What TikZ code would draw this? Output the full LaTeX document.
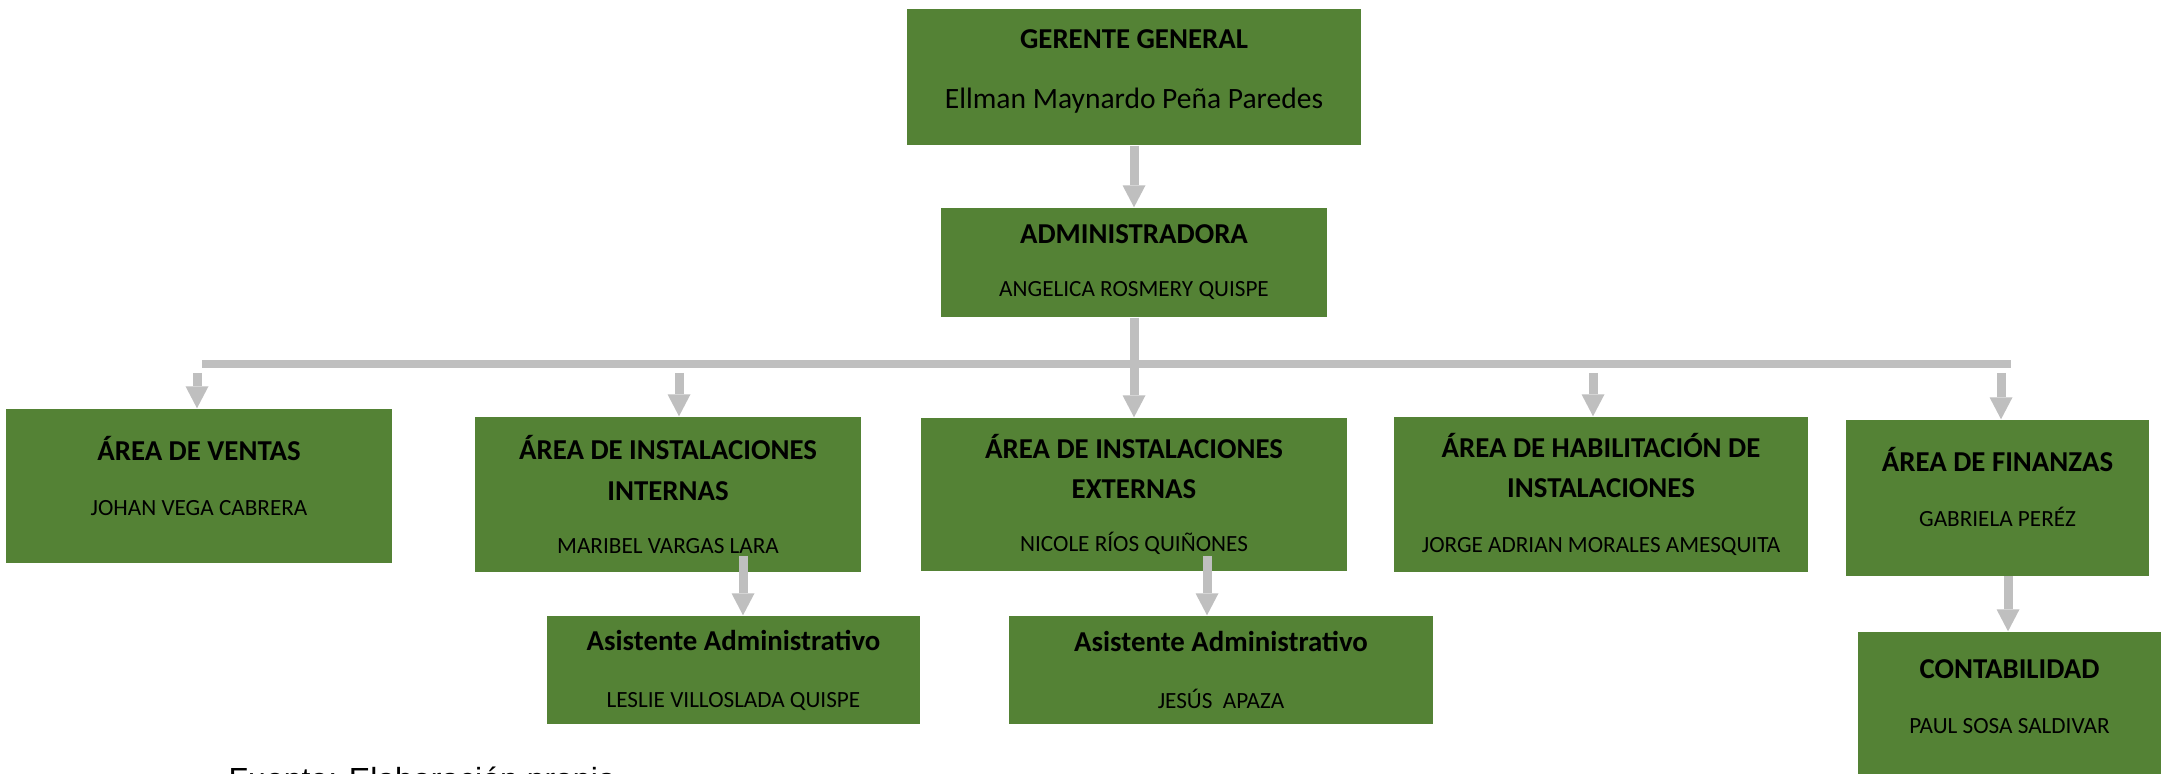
\documentclass[tikz,border=0pt]{standalone}
\usepackage{fontspec}
\setmainfont{Carlito}
\newfontfamily\arialfont{Liberation Sans}
\usetikzlibrary{arrows.meta, positioning}

\definecolor{verde}{HTML}{548235}
\definecolor{gris}{HTML}{BFBFBF}

\newcommand{\cargo}[1]{\textbf{#1}}
\newcommand{\persona}[1]{{\fontsize{6.6}{11.4}\selectfont #1}}
% linea vacia al final para subir el texto en la caja
\newcommand{\hueco}[1]{\\[#1]\mbox{}}

\tikzset{
	caja/.style = {fill=verde, inner sep=0pt, align=center, text=black,
		font=\fontsize{8.2}{11.4}\selectfont},
	flecha/.style = {draw=gris, line width=0.9mm,
		-{Triangle[width=2.3mm, length=2.2mm, line width=0pt]}},
	barra/.style = {draw=gris, line width=0.8mm},
}

\begin{document}
\begin{tikzpicture}[x=0.1mm, y=-0.1mm]
		\useasboundingbox (0,0) rectangle (2167,774);

		% direccion
		\node [caja, minimum width=45.4mm, minimum height=13.6mm] (gg) at (1134,77)
			{\cargo{GERENTE GENERAL}\\[5.7pt]{\fontsize{8.4}{11.4}\selectfont Ellman Maynardo Peña Paredes}\hueco{-6.9pt}};
		\node [caja, minimum width=38.6mm, minimum height=10.9mm] (adm) at (1134,262.5)
			{\cargo{ADMINISTRADORA}\\[3.7pt]\persona{ANGELICA ROSMERY QUISPE}};

		% areas
		\node [caja, minimum width=38.6mm, minimum height=15.4mm] (ven) at (199,486)
			{\cargo{ÁREA DE VENTAS}\\[4.3pt]\persona{JOHAN VEGA CABRERA}\hueco{-5.7pt}};
		\node [caja, minimum width=38.6mm, minimum height=15.5mm] (int) at (668,494.5)
			{\cargo{ÁREA DE INSTALACIONES}\\\cargo{INTERNAS}\\[3.7pt]\persona{MARIBEL VARGAS LARA}};
		\node [caja, minimum width=42.6mm, minimum height=15.3mm] (ext) at (1134,494.5)
			{\cargo{ÁREA DE INSTALACIONES}\\\cargo{EXTERNAS}\\[3.7pt]\persona{NICOLE RÍOS QUIÑONES}};
		\node [caja, minimum width=41.4mm, minimum height=15.5mm] (hab) at (1601,494.5)
			{\cargo{ÁREA DE HABILITACIÓN DE}\\\cargo{INSTALACIONES}\\[4.3pt]\persona{JORGE ADRIAN MORALES AMESQUITA}};
		\node [caja, minimum width=30.3mm, minimum height=15.6mm] (fin) at (1997.5,498)
			{\cargo{ÁREA DE FINANZAS}\\[4.3pt]\persona{GABRIELA PERÉZ}\hueco{-5.1pt}};

		% dependientes
		\node [caja, minimum width=37.3mm, minimum height=10.8mm] (as1) at (733.5,670)
			{\cargo{Asistente Administrativo}\\[4.8pt]\persona{LESLIE VILLOSLADA QUISPE}};
		\node [caja, minimum width=42.4mm, minimum height=10.8mm] (as2) at (1221,670)
			{\cargo{Asistente Administrativo}\\[4.8pt]\persona{JESÚS\ \ APAZA}};
		\node [caja, minimum width=30.3mm, minimum height=14.2mm] (con) at (2009.5,703)
			{\cargo{CONTABILIDAD}\\[4.3pt]\persona{PAUL SOSA SALDIVAR}\hueco{-7.5pt}};

		\node [anchor=base west, inner sep=0pt, font=\arialfont\fontsize{9.1}{11}\selectfont] (fuente) at (228,790)
			{Fuente: Elaboración propia};

		% conectores
		\draw [flecha] (gg.south) -- (adm.north);
		\draw [flecha] (adm.south) -- (ext.north);

		\coordinate (barI) at (202,364);
		\coordinate (barD) at (2011,364);
		\draw [barra] (barI) -- (barD);

		\foreach \xx/\nn in {197/ven, 679/int, 1593/hab, 2001/fin} {
			\coordinate (a\nn) at (\xx,373);
			\draw [flecha] (a\nn) -- (a\nn |- \nn.north);
		}

		\coordinate (s1) at (743,556);
		\coordinate (s2) at (1207,556);
		\coordinate (s3) at (2008,576);
		\draw [flecha] (s1) -- (s1 |- as1.north);
		\draw [flecha] (s2) -- (s2 |- as2.north);
		\draw [flecha] (s3) -- (s3 |- con.north);
	\end{tikzpicture}
\end{document}
